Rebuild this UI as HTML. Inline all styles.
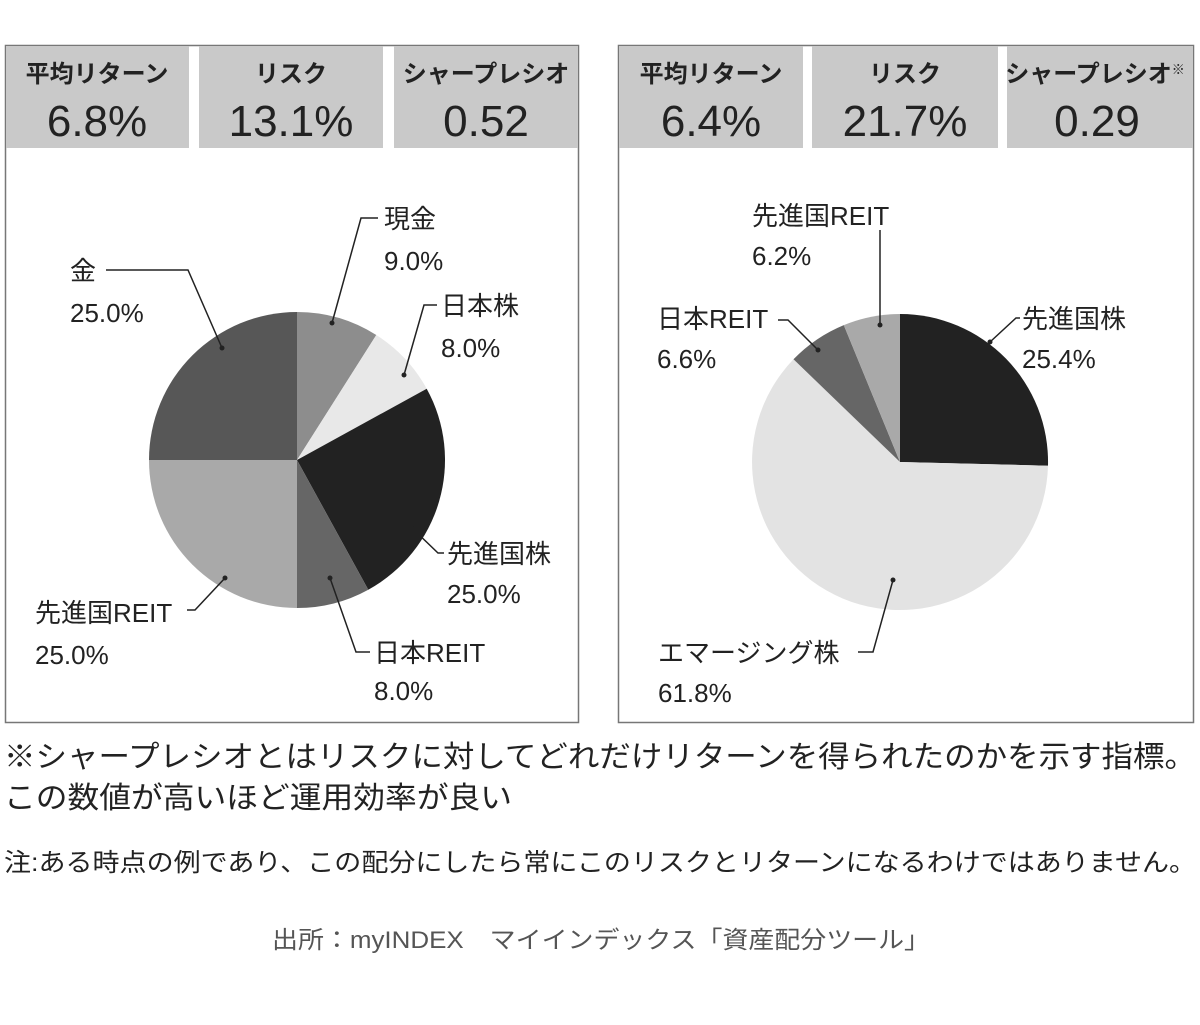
<!DOCTYPE html><html><head><meta charset="utf-8"><style>
body{margin:0;background:#fff;width:1200px;height:1020px;overflow:hidden;font-family:"Liberation Sans","Noto Sans CJK JP",sans-serif;}
svg text{font-family:"Liberation Sans","Noto Sans CJK JP",sans-serif;fill:#222}
</style></head><body>
<svg width="1200" height="1020" viewBox="0 0 1200 1020">
<rect x="5.5" y="45.5" width="573" height="677" fill="#fff" stroke="#777" stroke-width="1.5"/>
<rect x="618.5" y="45.5" width="575" height="677" fill="#fff" stroke="#777" stroke-width="1.5"/>
<g fill="#c9c9c9">
<rect x="6" y="46" width="183" height="102"/><rect x="199" y="46" width="184" height="102"/><rect x="394" y="46" width="184" height="102"/>
<rect x="619" y="46" width="184" height="102"/><rect x="812" y="46" width="186" height="102"/><rect x="1007" y="46" width="186" height="102"/>
</g>
<g font-size="24" font-weight="bold" text-anchor="middle">
<text x="97" y="82">平均リターン</text><text x="291" y="82">リスク</text><text x="486" y="82">シャープレシオ</text>
<text x="711" y="82">平均リターン</text><text x="905" y="82">リスク</text><text x="1095" y="82">シャープレシオ<tspan font-size="13" dy="-8">※</tspan></text>
</g>
<g font-size="44" text-anchor="middle">
<text x="97" y="136">6.8%</text><text x="291" y="136">13.1%</text><text x="486" y="136">0.52</text>
<text x="711" y="136">6.4%</text><text x="905" y="136">21.7%</text><text x="1097" y="136">0.29</text>
</g>
<path d="M297,460 L297,312 A148,148 0 0 1 376.3,335 Z" fill="#8d8d8d"/>
<path d="M297,460 L376.3,335 A148,148 0 0 1 426.7,388.7 Z" fill="#e8e8e8"/>
<path d="M297,460 L426.7,388.7 A148,148 0 0 1 368.3,589.7 Z" fill="#222"/>
<path d="M297,460 L368.3,589.7 A148,148 0 0 1 297,608 Z" fill="#666"/>
<path d="M297,460 L297,608 A148,148 0 0 1 149,460 Z" fill="#a9a9a9"/>
<path d="M297,460 L149,460 A148,148 0 0 1 297,312 Z" fill="#575757"/>
<path d="M900,462 L900,314 A148,148 0 0 1 1048,465.7 Z" fill="#222"/>
<path d="M900,462 L1048,465.7 A148,148 0 1 1 793.5,359.3 Z" fill="#e3e3e3"/>
<path d="M900,462 L793.5,359.3 A148,148 0 0 1 843.8,325.1 Z" fill="#666"/>
<path d="M900,462 L843.8,325.1 A148,148 0 0 1 900,314 Z" fill="#a9a9a9"/>
<g stroke="#222" stroke-width="1.5" fill="none">
<polyline points="332,323 361,218 378,218"/>
<polyline points="404,375 424,305 437,305"/>
<polyline points="412,528 438,553 444,553"/>
<polyline points="330,578 356,652 370,652"/>
<polyline points="225,578 195,610 187,610"/>
<polyline points="222,348 188,270 106,270"/>
<polyline points="880,325 880,230"/>
<polyline points="818,350 788,320 778,320"/>
<polyline points="990,342 1016,318 1020,318"/>
<polyline points="893,580 873,652 858,652"/>
</g>
<g fill="#222"><circle cx="332" cy="323" r="2.5"/><circle cx="404" cy="375" r="2.5"/><circle cx="412" cy="528" r="2.5"/><circle cx="330" cy="578" r="2.5"/><circle cx="225" cy="578" r="2.5"/><circle cx="222" cy="348" r="2.5"/><circle cx="880" cy="325" r="2.5"/><circle cx="818" cy="350" r="2.5"/><circle cx="990" cy="342" r="2.5"/><circle cx="893" cy="580" r="2.5"/></g>
<g font-size="26">
<text x="384" y="228">現金</text><text x="384" y="270">9.0%</text>
<text x="441" y="315">日本株</text><text x="441" y="357">8.0%</text>
<text x="447" y="563">先進国株</text><text x="447" y="603">25.0%</text>
<text x="374" y="662">日本REIT</text><text x="374" y="700">8.0%</text>
<text x="35" y="622">先進国REIT</text><text x="35" y="664">25.0%</text>
<text x="70" y="280">金</text><text x="70" y="322">25.0%</text>
<text x="752" y="225">先進国REIT</text><text x="752" y="265">6.2%</text>
<text x="657" y="328">日本REIT</text><text x="657" y="368">6.6%</text>
<text x="1022" y="328">先進国株</text><text x="1022" y="368">25.4%</text>
<text x="658" y="662">エマージング株</text><text x="658" y="702">61.8%</text>
</g>
<text x="4" y="767" font-size="30" textLength="1192" lengthAdjust="spacingAndGlyphs">※シャープレシオとはリスクに対してどれだけリターンを得られたのかを示す指標。</text>
<text x="4" y="808" font-size="30" textLength="508" lengthAdjust="spacingAndGlyphs">この数値が高いほど運用効率が良い</text>
<text x="4" y="871" font-size="25" textLength="1192" lengthAdjust="spacingAndGlyphs">注:ある時点の例であり、この配分にしたら常にこのリスクとリターンになるわけではありません。</text>
<text x="272" y="948" font-size="24" textLength="658" lengthAdjust="spacingAndGlyphs" style="fill:#555">出所：myINDEX　マイインデックス「資産配分ツール」</text>
</svg>
</body></html>
